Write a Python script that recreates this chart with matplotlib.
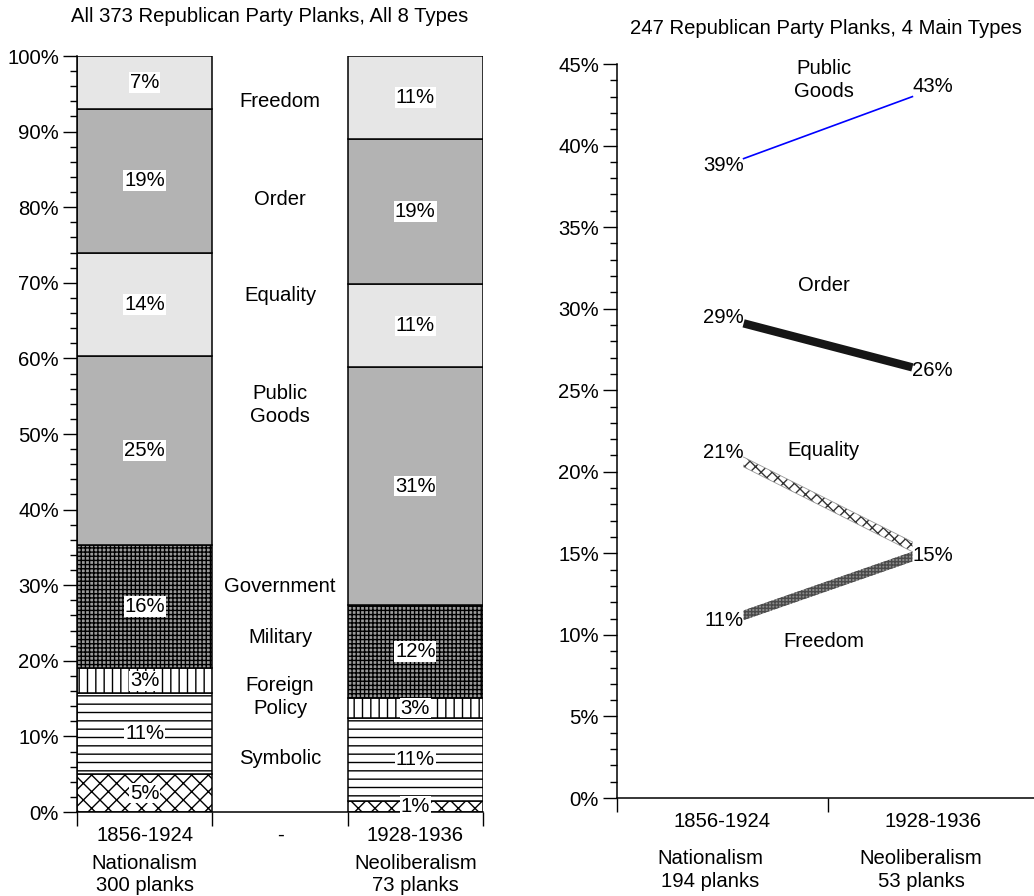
import matplotlib
matplotlib.use("Agg")
import matplotlib.pyplot as plt
import matplotlib.ticker as mticker

plt.rcParams["font.family"] = ["Liberation Sans", "DejaVu Sans"]
plt.rcParams["hatch.linewidth"] = 1.0
FS = 14.6

# ---------------------------------------------------------------------------
# Data
# ---------------------------------------------------------------------------
TYPES = ["Symbolic", "Foreign Policy", "Military", "Government",
         "Public Goods", "Equality", "Order", "Freedom"]
BAR_CATS = ["1856-1924", "-", "1928-1936"]
BAR_ERAS = ["Nationalism\n300 planks", "", "Neoliberalism\n73 planks"]
SHARE_1856 = [5.0, 10.7, 3.3, 16.3, 25.0, 13.7, 19.0, 7.0]
SHARE_1928 = [1.4, 11.0, 2.7, 12.3, 31.4, 11.0, 19.2, 11.0]

LINE_CATS = ["1856-1924", "1928-1936"]
LINE_ERAS = ["Nationalism\n194 planks", "Neoliberalism\n53 planks"]
MAIN_TYPES = ["Public Goods", "Order", "Equality", "Freedom"]
MAIN_1856 = [39.2, 29.1, 20.6, 11.2]
MAIN_1928 = [43.0, 26.4, 15.4, 14.8]

# ---------------------------------------------------------------------------
# Styles / layout
# ---------------------------------------------------------------------------
SEG_STYLE = {
    "Symbolic":       ("white",   "xx"),
    "Foreign Policy": ("white",   "--"),
    "Military":       ("white",   "||"),
    "Government":     ("#9a9a9a", "++++"),
    "Public Goods":   ("#b3b3b3", ""),
    "Equality":       ("#e6e6e6", ""),
    "Order":          ("#b3b3b3", ""),
    "Freedom":        ("#e6e6e6", ""),
}
MID_LABEL_Y = {"Symbolic": 7.1, "Foreign Policy": 15.2, "Military": 23.1,
               "Government": 29.8, "Public Goods": 53.8, "Equality": 68.3,
               "Order": 81.0, "Freedom": 94.0}
NAME_POS = {"Public Goods": 44.0, "Order": 31.4, "Equality": 21.3, "Freedom": 9.6}
LEFT_OFF = {"Public Goods": -5, "Order": 4, "Equality": 7, "Freedom": -4}
RIGHT_OFF = {"Public Goods": 7, "Order": -2, "Equality": -6, "Freedom": None}

W, H = 1034, 896
fig = plt.figure(figsize=(W / 100, H / 100), dpi=100)
ax1 = fig.add_axes([77 / W, 1 - 812 / H, 406 / W, 756 / H])
ax2 = fig.add_axes([617 / W, 1 - 798 / H, 422 / W, 734 / H])

# ---------------------------------------------------------------------------
# Left: stacked bars
# ---------------------------------------------------------------------------
for xpos, shares in [(0, SHARE_1856), (2, SHARE_1928)]:
    bottom = 0.0
    for name, v in zip(TYPES, shares):
        fc, hatch = SEG_STYLE[name]
        ax1.bar(xpos, v, width=1.0, bottom=bottom, facecolor=fc, hatch=hatch,
                edgecolor="black", linewidth=1.1, zorder=2)
        ax1.text(xpos, bottom + v / 2, f"{v:.0f}%", ha="center", va="center",
                 fontsize=FS, zorder=4,
                 bbox=dict(facecolor="white", edgecolor="none", pad=0.6))
        bottom += v

for name in TYPES:
    ax1.text(1, MID_LABEL_Y[name], name.replace(" ", "\n"), ha="center",
             va="center", fontsize=FS, linespacing=1.25)

ax1.set_xlim(-0.5, 2.5)
ax1.set_ylim(0, 100)
ax1.set_xticks(range(len(BAR_CATS)))
ax1.set_xticklabels(BAR_CATS, fontsize=FS)
ax1.set_xticks([-0.5, 0.5, 1.5, 2.5], minor=True)
ax1.tick_params(axis="x", which="major", length=0, pad=10)
ax1.tick_params(axis="x", which="minor", length=10, width=1.0)
ax1.set_yticks(range(0, 101, 10))
ax1.yaxis.set_minor_locator(mticker.MultipleLocator(2))
ax1.yaxis.set_major_formatter(mticker.PercentFormatter(decimals=0))
ax1.tick_params(axis="y", which="major", length=10, width=1.0, labelsize=FS, pad=3)
ax1.tick_params(axis="y", which="minor", length=5, width=1.0)
for i, lab in enumerate(BAR_ERAS):
    ax1.annotate(lab, xy=(i, 0), xycoords=("data", "axes fraction"),
                 xytext=(0, -45), textcoords="offset points",
                 ha="center", va="center", fontsize=FS, linespacing=1.25)

# ---------------------------------------------------------------------------
# Right: slope lines
# ---------------------------------------------------------------------------
X0, X1 = 0.1, 0.9
HALF = 0.3
for name, a, b in zip(MAIN_TYPES, MAIN_1856, MAIN_1928):
    if name == "Public Goods":
        ax2.plot([X0, X1], [a, b], color="#0000ff", lw=1.2, zorder=3)
    elif name == "Order":
        ax2.plot([X0, X1], [a, b], color="#161616", lw=6.0,
                 solid_capstyle="butt", zorder=3)
    elif name == "Equality":
        ax2.fill_between([X0, X1], [a - HALF, b - HALF], [a + HALF, b + HALF],
                         facecolor="white", hatch="xxx", edgecolor="#333333",
                         linewidth=0, zorder=3)
        for s in (-HALF, HALF):
            ax2.plot([X0, X1], [a + s, b + s], color="#999999", lw=0.6, zorder=3)
    else:
        ax2.fill_between([X0, X1], [a - HALF, b - HALF], [a + HALF, b + HALF],
                         facecolor="#8c8c8c", hatch="+++++", edgecolor="#4a4a4a",
                         linewidth=0, zorder=3)

    ax2.annotate(f"{a:.0f}%", xy=(X0, a), xytext=(0, LEFT_OFF[name]),
                 textcoords="offset points", ha="right", va="center", fontsize=FS)
    if RIGHT_OFF[name] is not None:
        ax2.annotate(f"{b:.0f}%", xy=(X1, b), xytext=(0, RIGHT_OFF[name]),
                     textcoords="offset points", ha="left", va="center", fontsize=FS)
    ax2.text(0.48, NAME_POS[name], name.replace(" ", "\n"), ha="center",
             va="center", fontsize=FS, linespacing=1.25)

ax2.set_xlim(-0.5, 1.5)
ax2.set_ylim(0, 45)
ax2.set_xticks(range(len(LINE_CATS)))
ax2.set_xticklabels(LINE_CATS, fontsize=FS)
ax2.set_xticks([-0.5, 0.5, 1.5], minor=True)
ax2.tick_params(axis="x", which="major", length=0, pad=10)
ax2.tick_params(axis="x", which="minor", length=10, width=1.0)
ax2.set_yticks(range(0, 46, 5))
ax2.yaxis.set_minor_locator(mticker.MultipleLocator(1))
ax2.yaxis.set_major_formatter(mticker.PercentFormatter(decimals=0))
ax2.tick_params(axis="y", which="major", length=10, width=1.0, labelsize=FS, pad=3)
ax2.tick_params(axis="y", which="minor", length=5, width=1.0)
for i, lab in enumerate(LINE_ERAS):
    ax2.annotate(lab, xy=(i, 0), xycoords=("data", "axes fraction"),
                 xytext=(-9, -52), textcoords="offset points",
                 ha="center", va="center", fontsize=FS, linespacing=1.25)

for ax in (ax1, ax2):
    ax.spines["top"].set_visible(False)
    ax.spines["right"].set_visible(False)
    ax.spines["left"].set_linewidth(1.1)
    ax.spines["bottom"].set_linewidth(1.1)

fig.text(270 / W, 1 - 17 / H, "All 373 Republican Party Planks, All 8 Types",
         ha="center", va="center", fontsize=FS)
fig.text(826 / W, 1 - 29 / H, "247 Republican Party Planks, 4 Main Types",
         ha="center", va="center", fontsize=FS)

fig.savefig("out.png", dpi=100)
